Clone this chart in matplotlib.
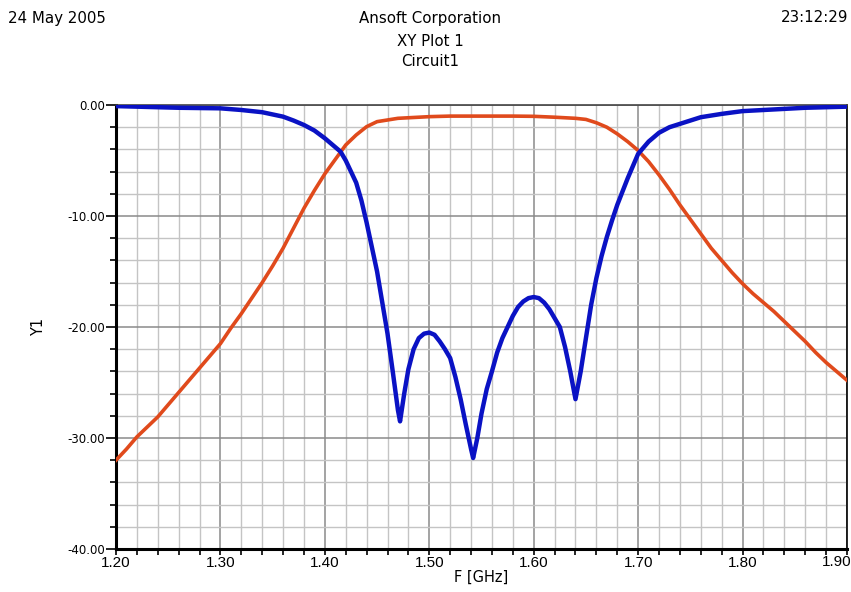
import matplotlib
matplotlib.use("Agg")
import matplotlib.pyplot as plt
from matplotlib.ticker import MultipleLocator, FormatStrFormatter, FuncFormatter

plt.rcParams['font.family'] = ['DejaVu Sans']
plt.rcParams['axes.unicode_minus'] = False

# S11 (reflection) trace, dB
freq_s11 = [1.20, 1.24, 1.26, 1.30, 1.32, 1.34, 1.36, 1.37, 1.38, 1.39, 1.40,
            1.41, 1.415, 1.42, 1.43, 1.435, 1.44, 1.445, 1.45, 1.455, 1.46,
            1.465, 1.470, 1.472, 1.476, 1.480, 1.485, 1.490, 1.495, 1.500,
            1.505, 1.510, 1.515, 1.520, 1.525, 1.530, 1.535, 1.540, 1.542,
            1.546, 1.550, 1.555, 1.560, 1.565, 1.570, 1.575, 1.580, 1.585,
            1.590, 1.595, 1.600, 1.605, 1.610, 1.615, 1.620, 1.625, 1.630,
            1.635, 1.640, 1.645, 1.650, 1.655, 1.660, 1.665, 1.670, 1.675,
            1.680, 1.685, 1.690, 1.695, 1.700, 1.710, 1.720, 1.730, 1.740,
            1.760, 1.780, 1.800, 1.820, 1.840, 1.860, 1.880, 1.900]
s11_db = [-0.10, -0.20, -0.25, -0.30, -0.45, -0.65, -1.05, -1.40, -1.80, -2.30, -3.00,
          -3.80, -4.20, -5.00, -7.00, -8.60, -10.6, -12.8, -15.0, -17.8, -20.6,
          -24.0, -27.5, -28.5, -26.0, -23.8, -22.0, -21.0, -20.6, -20.5,
          -20.7, -21.3, -22.0, -22.8, -24.5, -26.5, -28.8, -31.0, -31.8,
          -30.0, -27.8, -25.6, -24.0, -22.3, -21.0, -20.0, -19.0, -18.2,
          -17.7, -17.4, -17.3, -17.4, -17.8, -18.4, -19.2, -20.0, -21.8,
          -24.0, -26.5, -24.0, -21.0, -18.0, -15.6, -13.6, -11.9, -10.4,
          -9.0, -7.8, -6.6, -5.5, -4.4, -3.3, -2.5, -2.0, -1.70,
          -1.10, -0.80, -0.55, -0.45, -0.35, -0.25, -0.20, -0.15]

# S21 (transmission) trace, dB
freq_s21 = [1.20, 1.21, 1.22, 1.23, 1.24, 1.25, 1.26, 1.27, 1.28, 1.29, 1.30,
            1.31, 1.32, 1.33, 1.34, 1.35, 1.36, 1.37, 1.38, 1.39, 1.40,
            1.41, 1.42, 1.43, 1.44, 1.45, 1.46, 1.47, 1.48, 1.50, 1.52,
            1.54, 1.56, 1.58, 1.60, 1.62, 1.64, 1.65, 1.66, 1.67, 1.68,
            1.69, 1.70, 1.71, 1.72, 1.73, 1.74, 1.75, 1.76, 1.77, 1.78,
            1.79, 1.80, 1.81, 1.82, 1.83, 1.84, 1.85, 1.86, 1.87, 1.88,
            1.89, 1.90]
s21_db = [-32.0, -31.0, -29.9, -29.0, -28.1, -27.0, -25.9, -24.8, -23.7, -22.6, -21.5,
          -20.1, -18.8, -17.4, -16.0, -14.5, -12.9, -11.1, -9.3, -7.7, -6.2,
          -4.9, -3.6, -2.7, -1.95, -1.50, -1.35, -1.20, -1.15, -1.05, -1.00,
          -1.00, -1.00, -1.00, -1.02, -1.10, -1.20, -1.30, -1.60, -2.00, -2.60,
          -3.30, -4.10, -5.10, -6.30, -7.60, -9.00, -10.3, -11.6, -12.9, -14.0,
          -15.1, -16.1, -17.0, -17.8, -18.6, -19.5, -20.4, -21.3, -22.3, -23.2,
          -24.0, -24.8]

x_range = (1.20, 1.90)
y_range = (-40.0, 0.0)

tick_font = ['Liberation Sans', 'DejaVu Sans']
x_tick_size = 11

fig = plt.figure(figsize=(8.51, 5.92), dpi=100)
fig.patch.set_facecolor('white')
ax = fig.add_axes([116 / 851, 1 - 549 / 592, (847 - 116) / 851, (549 - 105) / 592])

ax.set_xlim(*x_range)
ax.set_ylim(*y_range)

ax.xaxis.set_major_locator(MultipleLocator(0.10))
ax.xaxis.set_minor_locator(MultipleLocator(0.02))
ax.yaxis.set_major_locator(MultipleLocator(10.0))
ax.yaxis.set_minor_locator(MultipleLocator(2.0))
# the label at the right end is drawn separately, right-aligned to the frame
ax.xaxis.set_major_formatter(FuncFormatter(
    lambda v, pos: '' if abs(v - x_range[1]) < 1e-6 else f'{v:.2f}'))
ax.yaxis.set_major_formatter(FormatStrFormatter('%.2f'))

ax.grid(which='minor', color='#c4c4c4', linewidth=1.0)
ax.grid(which='major', color='#8a8a8a', linewidth=1.1)
ax.set_axisbelow(True)

ax.tick_params(which='both', direction='out', color='black', width=1.2)
ax.tick_params(axis='y', which='major', length=7, labelsize=8.5, pad=1)
ax.tick_params(axis='y', which='minor', length=4)
ax.tick_params(axis='x', which='both', length=4, labelsize=x_tick_size, pad=1)
for lab in ax.get_xticklabels():
    lab.set_family(tick_font)

for side in ('left', 'bottom'):
    ax.spines[side].set_linewidth(2.2)
    ax.spines[side].set_color('black')
ax.spines['top'].set_linewidth(1.2)
ax.spines['top'].set_color('#444444')
ax.spines['right'].set_linewidth(1.2)
ax.spines['right'].set_color('black')

ax.plot(freq_s21, s21_db, color='#e04a1c', linewidth=2.6, solid_joinstyle='round', zorder=3)
ax.plot(freq_s11, s11_db, color='#0a12c4', linewidth=3.2, solid_joinstyle='round', zorder=4)

ax.annotate(f'{x_range[1]:.2f}', xy=(x_range[1], 0), xycoords=ax.get_xaxis_transform(),
            xytext=(3, -4), textcoords='offset points', ha='right', va='top',
            fontsize=x_tick_size, family=tick_font, annotation_clip=False)

ax.set_xlabel('F [GHz]', fontsize=10.5, labelpad=0)
ax.set_ylabel('Y1', fontsize=10.5, labelpad=15)

fig.text(8 / 851, 1 - 18 / 592, '24 May 2005', fontsize=10.8, ha='left', va='center')
fig.text(430 / 851, 1 - 18 / 592, 'Ansoft Corporation', fontsize=10.8, ha='center', va='center')
fig.text(430 / 851, 1 - 41 / 592, 'XY Plot 1', fontsize=10.8, ha='center', va='center')
fig.text(430 / 851, 1 - 61 / 592, 'Circuit1', fontsize=10.8, ha='center', va='center')
fig.text(848 / 851, 1 - 18 / 592, '23:12:29', fontsize=10.8, ha='right', va='center')

fig.savefig('out.png', dpi=100)
